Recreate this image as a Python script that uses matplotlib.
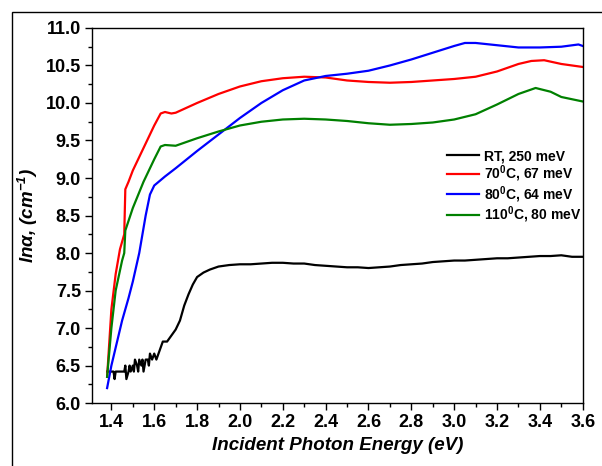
import matplotlib
matplotlib.use('Agg')
import matplotlib.pyplot as plt
from matplotlib.ticker import MultipleLocator, FormatStrFormatter
from matplotlib.patches import Rectangle

plt.rcParams['font.family'] = ['Liberation Sans', 'DejaVu Sans']
plt.rcParams['mathtext.default'] = 'regular'

rt_x = [1.38, 1.40, 1.41, 1.415, 1.42, 1.44, 1.46, 1.465, 1.47, 1.48, 1.485, 1.49, 1.50, 1.505,
        1.51, 1.52, 1.525, 1.53, 1.54, 1.545, 1.55, 1.56, 1.57, 1.575, 1.58, 1.59, 1.60, 1.61,
        1.62, 1.63, 1.64, 1.65, 1.66, 1.68, 1.70, 1.72, 1.74, 1.76, 1.78, 1.80, 1.83, 1.86,
        1.90, 1.95, 2.00, 2.05, 2.10, 2.15, 2.20, 2.25, 2.30, 2.35, 2.40, 2.45, 2.50, 2.55,
        2.60, 2.65, 2.70, 2.75, 2.80, 2.85, 2.90, 2.95, 3.00, 3.05, 3.10, 3.15, 3.20, 3.25,
        3.30, 3.35, 3.40, 3.45, 3.50, 3.55, 3.60]
rt_y = [6.42, 6.42, 6.42, 6.32, 6.42, 6.42, 6.42, 6.50, 6.32, 6.42, 6.50, 6.42, 6.50, 6.42,
        6.58, 6.50, 6.42, 6.58, 6.50, 6.58, 6.42, 6.58, 6.58, 6.50, 6.66, 6.58, 6.66, 6.58,
        6.66, 6.74, 6.82, 6.82, 6.82, 6.90, 6.98, 7.10, 7.30, 7.45, 7.58, 7.68, 7.74, 7.78,
        7.82, 7.84, 7.85, 7.85, 7.86, 7.87, 7.87, 7.86, 7.86, 7.84, 7.83, 7.82, 7.81, 7.81,
        7.80, 7.81, 7.82, 7.84, 7.85, 7.86, 7.88, 7.89, 7.90, 7.90, 7.91, 7.92, 7.93, 7.93,
        7.94, 7.95, 7.96, 7.96, 7.97, 7.95, 7.95]

# 70 C, 67 meV
r_x = [1.38, 1.40, 1.42, 1.44, 1.46, 1.465, 1.48, 1.50, 1.55, 1.60, 1.63, 1.65, 1.68, 1.70,
       1.80, 1.90, 2.00, 2.10, 2.20, 2.30, 2.40, 2.50, 2.60, 2.70, 2.80, 2.90, 3.00, 3.10,
       3.20, 3.30, 3.36, 3.42, 3.50, 3.60]
r_y = [6.35, 7.25, 7.72, 8.05, 8.25, 8.85, 8.95, 9.10, 9.40, 9.70, 9.86, 9.88, 9.86, 9.87,
       10.00, 10.12, 10.22, 10.29, 10.33, 10.35, 10.34, 10.30, 10.28, 10.27, 10.28, 10.30,
       10.32, 10.35, 10.42, 10.52, 10.56, 10.57, 10.52, 10.48]

# 80 C, 64 meV
b_x = [1.38, 1.40, 1.45, 1.48, 1.50, 1.53, 1.56, 1.58, 1.60, 1.65, 1.70, 1.80, 1.90, 2.00,
       2.10, 2.20, 2.30, 2.40, 2.50, 2.60, 2.70, 2.80, 2.90, 3.00, 3.05, 3.10, 3.20, 3.30,
       3.40, 3.50, 3.58, 3.60]
b_y = [6.20, 6.50, 7.10, 7.40, 7.62, 8.00, 8.50, 8.78, 8.90, 9.02, 9.13, 9.36, 9.58, 9.80,
       10.00, 10.17, 10.30, 10.36, 10.39, 10.43, 10.50, 10.58, 10.67, 10.76, 10.80, 10.80,
       10.77, 10.74, 10.74, 10.75, 10.78, 10.76]

# 110 C, 80 meV
g_x = [1.38, 1.40, 1.42, 1.45, 1.46, 1.465, 1.50, 1.55, 1.60, 1.63, 1.65, 1.70, 1.80, 1.90,
       2.00, 2.10, 2.20, 2.30, 2.40, 2.50, 2.60, 2.70, 2.80, 2.90, 3.00, 3.10, 3.20, 3.30,
       3.38, 3.45, 3.50, 3.60]
g_y = [6.35, 7.00, 7.50, 7.90, 8.00, 8.30, 8.60, 8.95, 9.25, 9.42, 9.44, 9.43, 9.53, 9.62,
       9.70, 9.75, 9.78, 9.79, 9.78, 9.76, 9.73, 9.71, 9.72, 9.74, 9.78, 9.85, 9.98, 10.12,
       10.20, 10.15, 10.08, 10.02]

labels = ['RT, 250 meV', '70$^0$C, 67 meV', '80$^0$C, 64 meV', '110$^0$C, 80 meV']

fig = plt.figure(figsize=(6.02, 4.66), dpi=100)
ax = fig.add_axes([0.153, 0.135, 0.815, 0.805])

ax.plot(rt_x, rt_y, color='black', lw=1.6, label=labels[0])
ax.plot(r_x, r_y, color='#ff0000', lw=1.6, label=labels[1])
ax.plot(b_x, b_y, color='#0000ff', lw=1.6, label=labels[2])
ax.plot(g_x, g_y, color='#008000', lw=1.6, label=labels[3])

ax.set_xlim(1.31, 3.6)
ax.set_ylim(6.0, 11.0)
ax.xaxis.set_major_locator(MultipleLocator(0.2))
ax.xaxis.set_minor_locator(MultipleLocator(0.1))
ax.yaxis.set_major_locator(MultipleLocator(0.5))
ax.yaxis.set_minor_locator(MultipleLocator(0.25))
ax.xaxis.set_major_formatter(FormatStrFormatter('%.1f'))
ax.yaxis.set_major_formatter(FormatStrFormatter('%.1f'))
ax.tick_params(which='major', direction='out', length=5, width=1, labelsize=13, pad=3)
ax.tick_params(which='minor', direction='out', length=3, width=1)
for lab in ax.get_xticklabels() + ax.get_yticklabels():
    lab.set_fontweight('bold')
for s in ax.spines.values():
    s.set_linewidth(1)

ax.set_xlabel('Incident Photon Energy (eV)', fontsize=13.5, fontweight='bold', style='italic',
              labelpad=4)
ax.set_ylabel('ln\u03b1, (cm$^{-1}$)', fontsize=13.5, fontweight='bold', style='italic',
              labelpad=4)

leg = ax.legend(loc='upper left', bbox_to_anchor=(0.71, 0.695), frameon=False,
                prop={'weight': 'bold', 'size': 10}, handlelength=2.3,
                handletextpad=0.3, labelspacing=0.0, borderpad=0)

fig.patches.append(Rectangle((12 / 602, -0.1), 1.2, (466 - 12) / 466 + 0.1,
                             transform=fig.transFigure, fill=False, lw=1,
                             edgecolor='black'))

fig.savefig('out.png', dpi=100)
